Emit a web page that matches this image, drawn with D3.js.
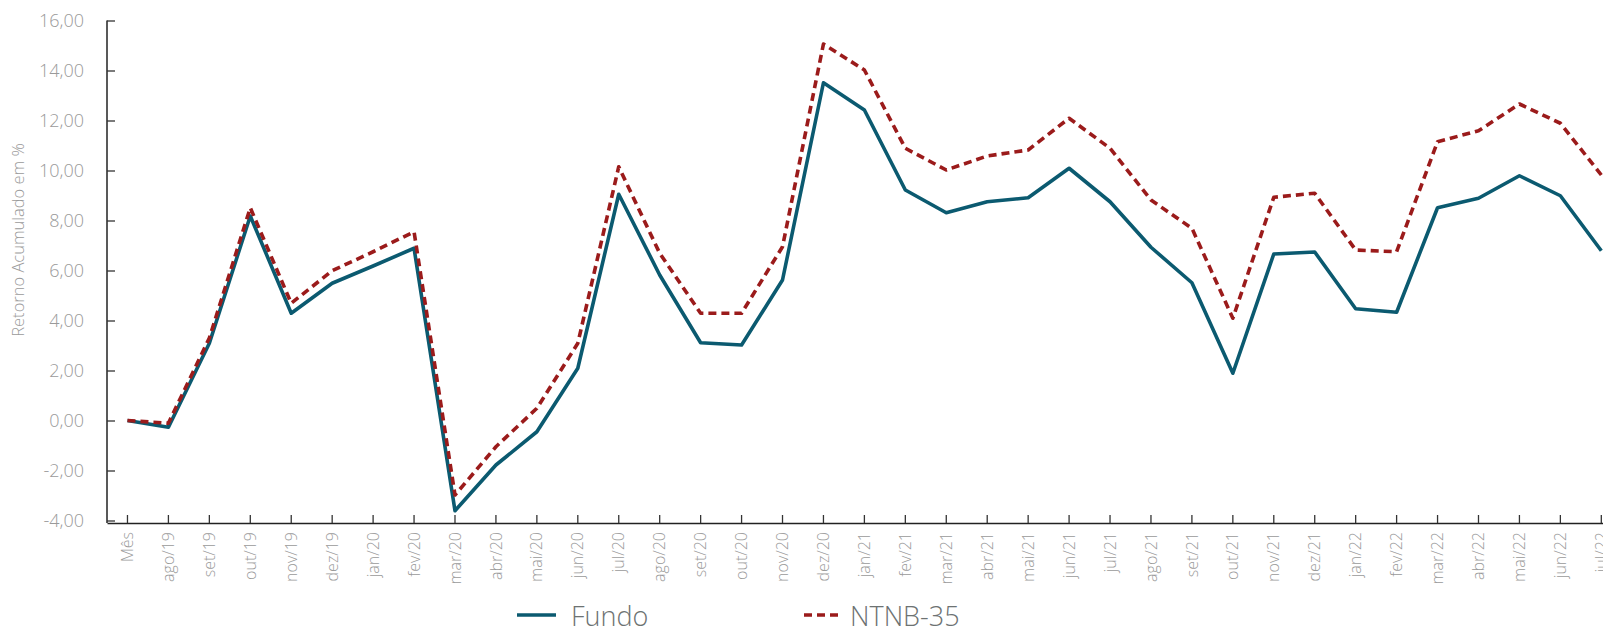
<html>
  <head>
    <title>Retorno Acumulado</title>
    <script type="text/javascript" src="https://d3js.org/d3.v7.min.js"></script>
    <style type="text/css">
      body { margin: 0; background: #fff; }
      text { font-family: "Open Sans", sans-serif; font-weight: 300; }
    </style>
  </head>
  <body>
    <script type="text/javascript">

      // categories and series
      var months = ["Mês","ago/19","set/19","out/19","nov/19","dez/19","jan/20","fev/20","mar/20","abr/20",
                    "mai/20","jun/20","jul/20","ago/20","set/20","out/20","nov/20","dez/20","jan/21","fev/21",
                    "mar/21","abr/21","mai/21","jun/21","jul/21","ago/21","set/21","out/21","nov/21","dez/21",
                    "jan/22","fev/22","mar/22","abr/22","mai/22","jun/22","jul/22"];

      var fundo = [0.00,-0.27,3.09,8.18,4.29,5.49,6.18,6.89,-3.61,-1.78,
                   -0.45,2.09,9.05,5.82,3.11,3.02,5.62,13.51,12.42,9.22,
                   8.31,8.75,8.91,10.09,8.75,6.93,5.51,1.89,6.66,6.74,
                   4.47,4.33,8.51,8.89,9.79,8.99,6.79];

      var ntnb = [0.00,-0.11,3.30,8.51,4.69,5.99,6.75,7.55,-2.98,-1.05,
                  0.49,3.09,10.15,6.69,4.29,4.29,6.95,15.06,14.02,10.89,
                  10.02,10.58,10.82,12.09,10.89,8.82,7.69,4.09,8.93,9.09,
                  6.82,6.75,11.15,11.59,12.66,11.89,9.82];

      var yTicks = [-4,-2,0,2,4,6,8,10,12,14,16];

      var series = [
        {name: "Fundo", values: fundo, color: "#0b5a70", dash: null},
        {name: "NTNB-35", values: ntnb, color: "#9b1b1b", dash: "8,5"}
      ];

      //Width and height
      var w = 1603;
      var h = 626;

      var svg = d3.select("body")
            .append("svg")
            .attr("width", w)
            .attr("height", h);

      var x = d3.scaleBand()
        .domain(months)
        .range([107, 107 + 40.94 * months.length]);

      var y = d3.scaleLinear()
        .domain([-4, 16])
        .range([520.5, 20.5]);

      // "16,00" / "-2,00" with a plain hyphen
      var fmt = function(d){ return d.toFixed(2).replace(".", ","); };

      //y axis
      var yAxis = svg.append("g")
        .attr("transform", "translate(107,0)")
        .call(d3.axisRight(y).tickValues(yTicks).tickSize(8).tickFormat(fmt));
      yAxis.select(".domain").attr("d", "M0,20.5V523").attr("stroke", "#222").attr("stroke-width", 1.5);
      yAxis.selectAll(".tick line").attr("stroke", "#333").attr("stroke-width", 1.3);
      yAxis.selectAll(".tick text")
        .attr("x", -23)
        .attr("text-anchor", "end")
        .attr("fill", "#9a9a9a")
        .style("font-size", "18px");

      //x axis
      var xAxis = svg.append("g")
        .attr("transform", "translate(0,523)")
        .call(d3.axisTop(x).tickSize(8).tickSizeOuter(0));
      xAxis.select(".domain").attr("stroke", "#222").attr("stroke-width", 1.5);
      xAxis.selectAll(".tick line").attr("stroke", "#333").attr("stroke-width", 1.3);
      xAxis.selectAll(".tick text")
        .attr("transform", "rotate(-90)")
        .attr("x", -9)
        .attr("y", 0)
        .attr("dy", "0.35em")
        .attr("text-anchor", "end")
        .attr("fill", "#9a9a9a")
        .style("font-size", "16px");

      //axis title
      svg.append("text")
        .attr("transform", "translate(24,240) rotate(-90)")
        .attr("text-anchor", "middle")
        .attr("fill", "#9a9a9a")
        .style("font-size", "16.5px")
        .text("Retorno Acumulado em %");

      //lines
      var line = d3.line()
        .x(function(d, i){ return x(months[i]) + x.bandwidth() / 2; })
        .y(function(d){ return y(d); });

      svg.selectAll("path.serie")
        .data(series)
        .enter()
        .append("path")
        .attr("class", "serie")
        .attr("fill", "none")
        .attr("stroke", function(d){ return d.color; })
        .attr("stroke-width", 3.6)
        .attr("stroke-linejoin", "round")
        .attr("stroke-dasharray", function(d){ return d.dash; })
        .attr("d", function(d){ return line(d.values); });

      //legend
      var legX = [517, 804];
      var leg = svg.selectAll("g.leg")
        .data(series)
        .enter()
        .append("g")
        .attr("class", "leg")
        .attr("transform", function(d, i){ return "translate(" + legX[i] + ",615)"; });
      leg.append("line")
        .attr("x1", 0).attr("x2", 39)
        .attr("stroke", function(d){ return d.color; })
        .attr("stroke-width", 3.6)
        .attr("stroke-dasharray", function(d){ return d.dash; });
      leg.append("text")
        .attr("x", function(d, i){ return i == 0 ? 54 : 46; })
        .attr("y", 11)
        .attr("fill", "#6d7272")
        .style("font-size", "27px")
        .text(function(d){ return d.name; });

    </script>
  </body>
</html>
